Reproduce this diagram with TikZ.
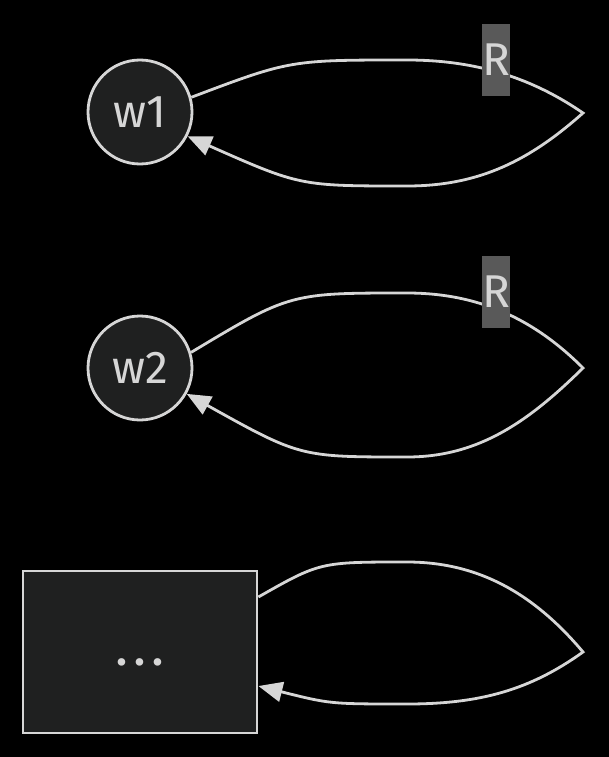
\documentclass[tikz,border=0pt]{standalone}
\usepackage{fontspec}
\setmainfont{Fira Sans}
\usepackage{tikz}
\usetikzlibrary{positioning, arrows.meta, calc}

\definecolor{nodefill}{HTML}{1F2020}
\definecolor{linecol}{HTML}{D6D6D6}
\definecolor{labelbg}{HTML}{595959}

\begin{document}
\begin{tikzpicture}[
    x=1pt, y=-1pt,
    arrow/.style={-{Triangle[length=24pt, width=20pt]}, line width=2.8pt, draw=linecol},
    worker/.style={circle, draw=linecol, line width=2.8pt, fill=nodefill, minimum size=104pt, inner sep=0pt, text=linecol, font=\fontsize{46}{48}\selectfont},
    block/.style={rectangle, draw=linecol, line width=2.8pt, fill=nodefill, minimum width=234pt, minimum height=162pt, inner sep=0pt, text=linecol, font=\fontsize{54}{56}\selectfont},
    elabel/.style={fill=labelbg, text=linecol, inner sep=0pt, minimum width=28pt, minimum height=72pt, font=\fontsize{46}{48}\selectfont}
]

    % Background
    \fill[black] (0, 0) rectangle (609, 757);
    \useasboundingbox (0, 0) rectangle (609, 757);

    % Nodes
    \node[worker] (w1) at (140, 112) {w1};
    \node[worker] (w2) at (140, 368) {w2};
    \node[block] (more) at (140, 652) {\vphantom{w}.\hspace{0.1em}.\hspace{0.1em}.};

    % Loop points
    \coordinate (t1) at (407, 60);
    \coordinate (r1) at (583, 113);
    \coordinate (b1) at (407, 186);
    \coordinate (t2) at (407, 293);
    \coordinate (r2) at (583, 368);
    \coordinate (b2) at (407, 457);
    \coordinate (t3) at (407, 562);
    \coordinate (r3) at (583, 652);
    \coordinate (b3) at (407, 704);

    % Self loops
    \draw[arrow] (w1.16) .. controls (290, 60) .. (t1)
        .. controls (480, 60) and (535, 80) .. (r1)
        .. controls (530, 160) and (480, 186) .. (b1)
        .. controls (300, 186) .. (w1.-27);
    \draw[arrow] (w2.17) .. controls (290, 293) .. (t2)
        .. controls (480, 293) and (535, 320) .. (r2)
        .. controls (530, 420) and (480, 457) .. (b2)
        .. controls (300, 457) .. (w2.-29);
    \draw[arrow] (more.east |- 0, 597) .. controls (320, 562) .. (t3)
        .. controls (480, 562) and (535, 595) .. (r3)
        .. controls (530, 690) and (480, 704) .. (b3)
        .. controls (330, 704) .. (more.east |- 0, 686);

    % Edge labels
    \node[elabel] (lab1) at (496, 60) {R};
    \node[elabel] (lab2) at (496, 292) {R};

\end{tikzpicture}
\end{document}
